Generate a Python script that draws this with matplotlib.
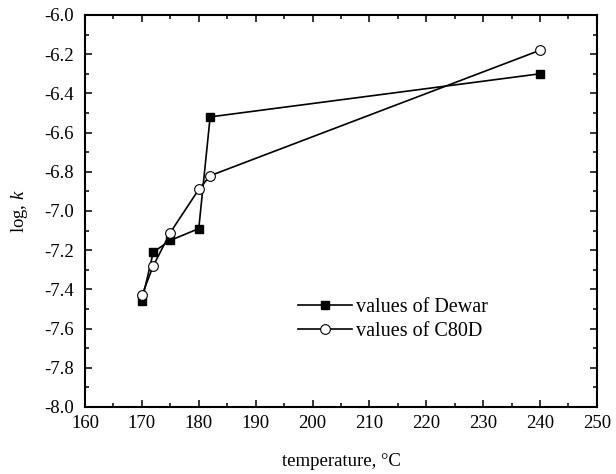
import matplotlib
matplotlib.use("Agg")
import matplotlib.pyplot as plt
from matplotlib.ticker import MultipleLocator

plt.rcParams['font.family'] = ['Liberation Serif', 'DejaVu Serif']
plt.rcParams['mathtext.fontset'] = 'custom'
plt.rcParams['mathtext.it'] = 'Liberation Serif:italic'
plt.rcParams['mathtext.rm'] = 'Liberation Serif'

# data
temp_dewar = [170, 172, 175, 180, 182, 240]
logk_dewar = [-7.46, -7.21, -7.15, -7.09, -6.52, -6.30]
temp_c80d = [170, 172, 175, 180, 182, 240]
logk_c80d = [-7.43, -7.28, -7.11, -6.89, -6.82, -6.18]

fig = plt.figure(figsize=(6.16, 4.74), dpi=100)
ax = fig.add_axes([0.138, 0.1414, 0.831, 0.827])

ax.plot(temp_dewar, logk_dewar, 'k-', marker='s', ms=6, lw=1.2,
        mfc='black', mec='black', label='values of Dewar')
ax.plot(temp_c80d, logk_c80d, 'k-', marker='o', ms=7, lw=1.2,
        mfc='white', mec='black', mew=0.8, label='values of C80D')

ax.set_xlim(160, 250)
ax.set_ylim(-8.0, -6.0)
ax.xaxis.set_major_locator(MultipleLocator(10))
ax.xaxis.set_minor_locator(MultipleLocator(5))
ax.yaxis.set_major_locator(MultipleLocator(0.2))
ax.yaxis.set_minor_locator(MultipleLocator(0.1))
ax.yaxis.set_major_formatter(plt.FuncFormatter(lambda v, p: '%.1f' % v))
ax.tick_params(which='both', direction='in', top=True, right=True,
               labelsize=13.5, width=1.1)
ax.tick_params(which='major', length=5)
ax.tick_params(which='minor', length=3.2)
ax.tick_params(axis='x', pad=6)
ax.tick_params(axis='y', pad=8)
for s in ax.spines.values():
    s.set_linewidth(1.5)

ax.set_xlabel('temperature, °C', fontsize=13.5, labelpad=15)
ax.set_ylabel('log, $k$', fontsize=13.5, labelpad=10)

ax.legend(loc='center left', bbox_to_anchor=(0.416, 0.223), frameon=False,
          fontsize=14.5, handlelength=2.7, handletextpad=0.2,
          labelspacing=0.25, borderpad=0, borderaxespad=0)

fig.savefig('out.png', dpi=100)
